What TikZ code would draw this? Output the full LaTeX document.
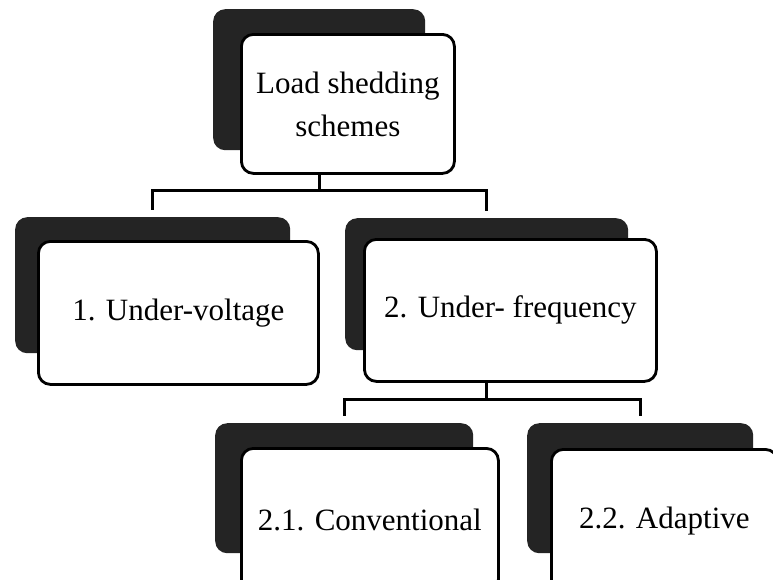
\documentclass[tikz,border=0pt]{standalone}
\usepackage{fontspec}
\setmainfont{Liberation Serif}
\usepackage{tikz}
\usetikzlibrary{calc}

\tikzset{
	schemebox/.style = {draw, line width = 2.8pt, rounded corners = 12pt, fill = white, align = center, inner sep = 0pt, anchor = north west, font = \fontsize{31}{43}\selectfont},
	schemeshade/.style = {fill = black!86, rounded corners = 12pt, inner sep = 0pt, anchor = north west},
	joinline/.style = {line width = 3pt}
}

\begin{document}
\begin{tikzpicture}[x = 1pt, y = -1pt]
					\def\gap{7pt};

					\useasboundingbox (0,0) rectangle (773,579);
					\fill [white] (0,0) rectangle (773,579);
					\clip (0,0) rectangle (773,579);

					\begin{scope}
						\node [schemeshade, minimum width = 212pt, minimum height = 141pt] (loadshade) at (213,9) {};
						\node [schemeshade, minimum width = 275pt, minimum height = 136pt] (uvshade) at (15,217) {};
						\node [schemeshade, minimum width = 283pt, minimum height = 132pt] (ufshade) at (345,218) {};
						\node [schemeshade, minimum width = 258pt, minimum height = 130pt] (convshade) at (215,423) {};
						\node [schemeshade, minimum width = 226pt, minimum height = 130pt] (adapshade) at (527,423) {};
					\end{scope}

					\begin{scope}[joinline]
						\draw (loadshade.south) -- ++(0,40) coordinate (topbus);
						\draw (topbus) -| ([yshift = \gap]uvshade.north);
						\draw (topbus) -| ([yshift = \gap]ufshade.north);
						\draw (ufshade.south) -- ++(0,49) coordinate (lowbus);
						\draw (lowbus) -| ([yshift = \gap]convshade.north);
						\draw (lowbus) -| ([yshift = \gap]adapshade.north);
					\end{scope}

					\begin{scope}
						\node [schemebox, minimum width = 213pt, minimum height = 139pt] (load) at (240,33) {Load shedding\\schemes};
						\node [schemebox, minimum width = 280pt, minimum height = 143pt] (uv) at (37,240) {1. Under-voltage};
						\node [schemebox, minimum width = 292pt, minimum height = 142pt] (uf) at (363,238) {2. Under- frequency};
						\node [schemebox, minimum width = 257pt, minimum height = 143pt] (conv) at (240,447) {2.1. Conventional};
						\node [schemebox, minimum width = 226pt, minimum height = 143pt] (adap) at (550,448) {2.2. Adaptive};
					\end{scope}
				\end{tikzpicture}
\end{document}
